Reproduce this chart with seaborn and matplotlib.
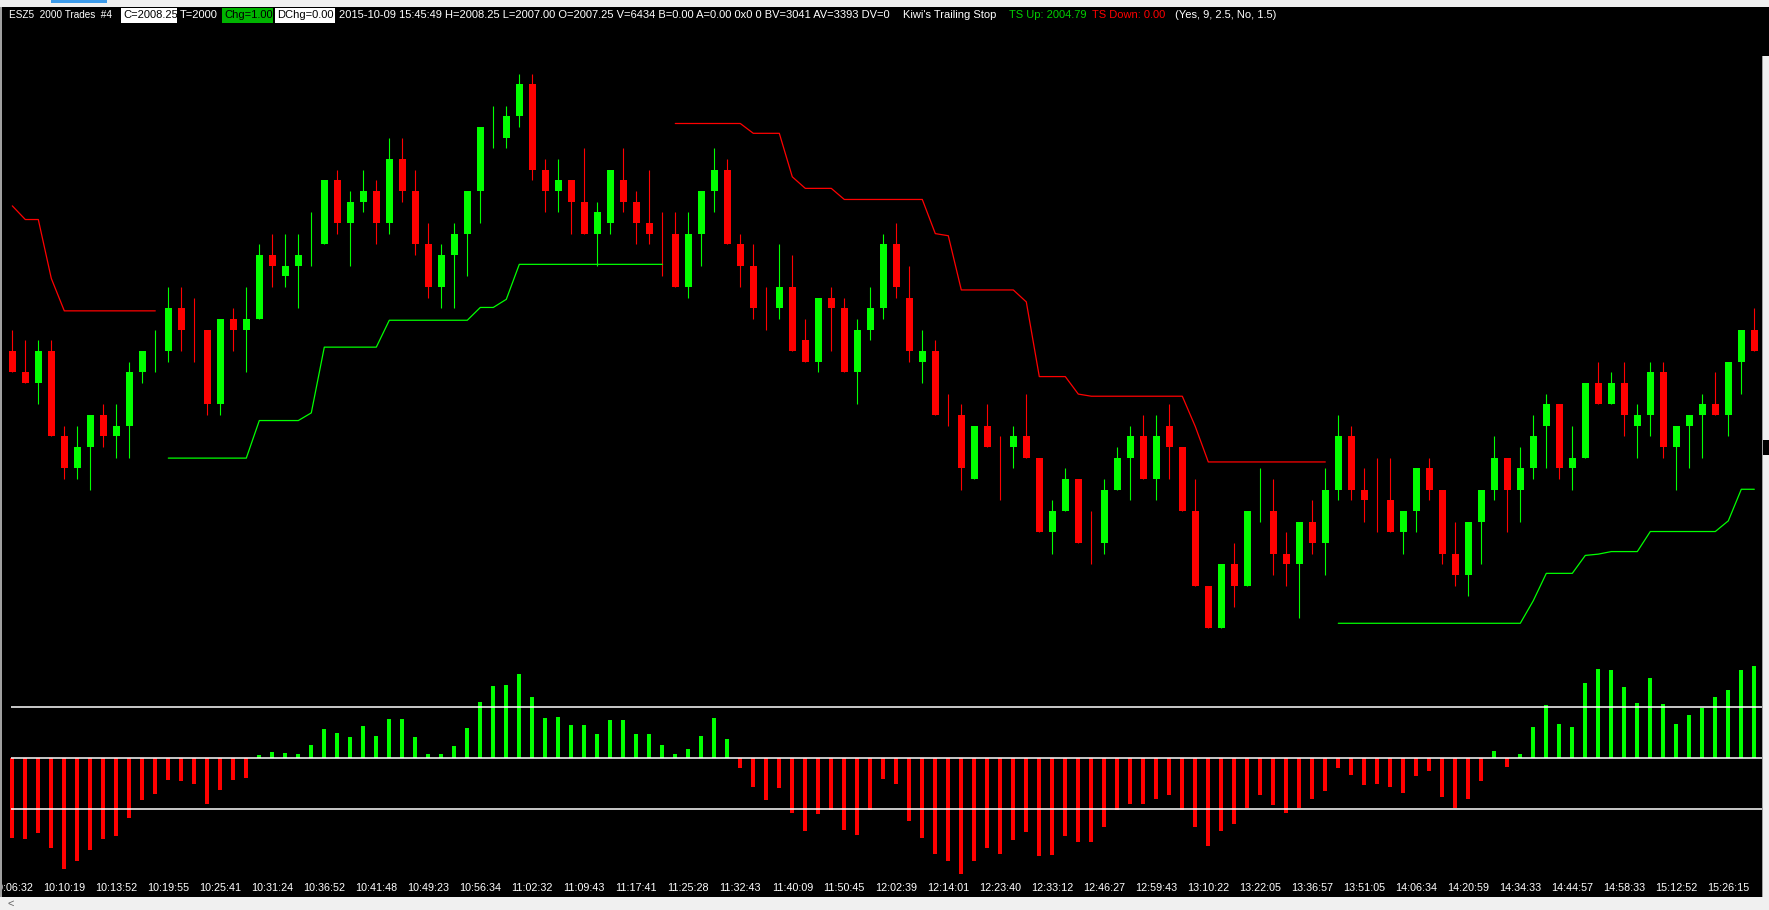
import numpy as np
import pandas as pd
import matplotlib
matplotlib.use("Agg")
import matplotlib.pyplot as plt
from matplotlib.patches import Rectangle
from matplotlib import font_manager
import seaborn as sns

nan = np.nan

base_price = 2008.00
open_ticks = [0, -2, -3, 0, -8, -11, -9, -6, -8, -7,
              -2, 0, 0, 4, 2, 2, -5, 3, 2, 3,
              9, 7, 8, 10, 10, 16, 12, 14, 15, 12,
              18, 15, 10, 6, 9, 11, 15, 21, 20, 22,
              25, 17, 15, 16, 14, 11, 12, 16, 14, 12,
              11, 11, 6, 11, 15, 17, 10, 8, 4, 4,
              6, 1, -1, 5, 4, -2, 2, 4, 10, 5,
              -1, 0, -6, -6, -12, -7, -9, -9, -8, -10,
              -17, -15, -12, -18, -18, -13, -10, -8, -12, -7,
              -9, -15, -22, -26, -20, -22, -15, -15, -19, -20,
              -16, -18, -13, -8, -13, -14, -14, -17, -15, -11,
              -13, -19, -21, -16, -13, -10, -13, -11, -7, -5,
              -11, -10, -3, -5, -3, -7, -6, -2, -9, -7,
              -6, -5, -6, -1, 2]
high_ticks = [2, 1, 1, 1, -7, -7, -6, -5, -5, -1,
              0, 2, 6, 6, 5, 2, 3, 4, 6, 10,
              11, 11, 11, 13, 16, 17, 15, 17, 16, 20,
              20, 17, 12, 10, 12, 15, 21, 23, 23, 26,
              26, 18, 18, 16, 19, 14, 17, 19, 15, 17,
              13, 13, 13, 15, 19, 18, 11, 10, 6, 10,
              9, 3, 5, 6, 5, 3, 6, 11, 12, 8,
              2, 1, -4, -5, -7, -5, -8, -7, -4, -10,
              -14, -11, -12, -15, -12, -9, -7, -6, -6, -5,
              -9, -12, -22, -20, -18, -15, -11, -12, -17, -16,
              -14, -11, -6, -7, -11, -10, -10, -15, -11, -10,
              -13, -16, -16, -13, -8, -10, -9, -6, -4, -5,
              -7, -3, -1, -2, -1, -5, -1, -1, -7, -6,
              -4, -2, -1, 2, 4]
low_ticks = [-2, -3, -5, -8, -12, -12, -13, -9, -10, -10,
             -3, -2, -1, 0, -1, -6, -6, 0, -2, 3,
             6, 6, 4, 8, 10, 11, 8, 13, 10, 11,
             14, 9, 5, 4, 4, 7, 12, 19, 19, 21,
             16, 13, 13, 11, 11, 8, 11, 13, 10, 10,
             7, 6, 5, 8, 13, 10, 6, 3, 2, 3,
             0, -1, -2, 0, -2, -5, 1, 3, 5, -1,
             -3, -6, -7, -13, -12, -9, -14, -11, -10, -17,
             -19, -15, -18, -20, -19, -13, -14, -12, -14, -12,
             -15, -22, -26, -26, -24, -22, -16, -21, -22, -25,
             -19, -21, -14, -14, -16, -17, -17, -19, -17, -14,
             -20, -22, -23, -20, -14, -17, -16, -12, -11, -12,
             -13, -10, -5, -5, -8, -10, -8, -10, -13, -11,
             -10, -6, -8, -4, 0]
close_ticks = [-2, -3, 0, -8, -11, -9, -6, -8, -7, -2,
               0, 0, 4, 2, 2, -5, 3, 2, 3, 9,
               8, 8, 9, 10, 16, 12, 14, 15, 12, 18,
               15, 10, 6, 9, 11, 15, 21, 21, 22, 25,
               17, 15, 16, 14, 11, 13, 17, 14, 12, 11,
               11, 6, 11, 15, 17, 10, 8, 4, 4, 6,
               0, -1, 5, 4, -2, 2, 4, 10, 6, 0,
               0, -6, -6, -11, -7, -9, -9, -8, -10, -17,
               -15, -12, -18, -18, -13, -10, -8, -12, -8, -9,
               -15, -22, -26, -20, -22, -15, -15, -19, -20, -16,
               -18, -13, -8, -13, -14, -14, -17, -15, -11, -13,
               -19, -21, -16, -13, -10, -13, -11, -8, -5, -11,
               -10, -3, -5, -3, -6, -6, -2, -9, -7, -6,
               -5, -6, -1, 2, 0]
# dojis painted green (the rest of the dojis are red)
doji_up = [11, 23, 37, 96]

# Kiwi's Trailing Stop, one side at a time
ts_up = ([nan] * 10 +
         [nan, nan, 2005.49, 2005.49, 2005.49, 2005.49, 2005.49, 2005.49, 2005.49, 2006.37] +
         [2006.37, 2006.37, 2006.37, 2006.55, 2008.09, 2008.09, 2008.09, 2008.09, 2008.09, 2008.72] +
         [2008.72, 2008.72, 2008.72, 2008.72, 2008.72, 2008.72, 2009.02, 2009.02, 2009.21, 2010.03] +
         [2010.03, 2010.03, 2010.03, 2010.03, 2010.03, 2010.03, 2010.03, 2010.03, 2010.03, 2010.03] +
         [2010.03] + [nan] * 51 +
         [2001.62, 2001.62, 2001.62, 2001.62, 2001.62, 2001.62, 2001.62, 2001.62] +
         [2001.62, 2001.62, 2001.62, 2001.62, 2001.62, 2001.62, 2001.62, 2002.15, 2002.79, 2002.79] +
         [2002.79, 2003.21, 2003.24, 2003.30, 2003.30, 2003.30, 2003.77, 2003.77, 2003.77, 2003.77] +
         [2003.77, 2003.77, 2004.02, 2004.76, 2004.76])
ts_down = ([2011.40, 2011.08, 2011.08, 2009.70, 2008.94, 2008.94, 2008.94, 2008.94, 2008.94, 2008.94] +
           [2008.94, 2008.94] + [nan] * 39 +
           [2013.33, 2013.33, 2013.33, 2013.33, 2013.33, 2013.33, 2013.10, 2013.10, 2013.10] +
           [2012.08, 2011.81, 2011.81, 2011.81, 2011.55, 2011.55, 2011.55, 2011.55, 2011.55, 2011.55] +
           [2011.55, 2010.75, 2010.70, 2009.43, 2009.43, 2009.43, 2009.43, 2009.43, 2009.15, 2007.40] +
           [2007.40, 2007.40, 2006.99, 2006.94, 2006.94, 2006.94, 2006.94, 2006.94, 2006.94, 2006.94] +
           [2006.94, 2006.23, 2005.40, 2005.40, 2005.40, 2005.40, 2005.40, 2005.40, 2005.40, 2005.40] +
           [2005.40, 2005.40] + [nan] * 33)

# lower pane oscillator, guide lines at +1 / -1
osc = [-1.56, -1.58, -1.48, -1.77, -2.18, -2.01, -1.80, -1.59, -1.52, -1.18,
       -0.83, -0.71, -0.44, -0.46, -0.50, -0.90, -0.62, -0.44, -0.40, 0.05,
       0.12, 0.10, 0.08, 0.26, 0.56, 0.50, 0.42, 0.63, 0.44, 0.77,
       0.77, 0.42, 0.08, 0.08, 0.24, 0.58, 1.10, 1.42, 1.44, 1.65,
       1.20, 0.79, 0.81, 0.65, 0.65, 0.48, 0.75, 0.75, 0.48, 0.48,
       0.26, 0.07, 0.18, 0.44, 0.79, 0.38, -0.19, -0.56, -0.83, -0.58,
       -1.07, -1.44, -1.10, -1.01, -1.42, -1.50, -1.01, -0.42, -0.50, -1.24,
       -1.56, -1.89, -2.01, -2.28, -2.01, -1.76, -1.89, -1.61, -1.46, -1.93,
       -1.91, -1.52, -1.65, -1.65, -1.36, -1.01, -0.91, -0.91, -0.81, -0.73,
       -1.01, -1.36, -1.73, -1.44, -1.30, -0.99, -0.73, -0.93, -1.07, -0.99,
       -0.81, -0.65, -0.20, -0.34, -0.52, -0.50, -0.56, -0.69, -0.36, -0.26,
       -0.77, -0.99, -0.81, -0.46, 0.14, -0.18, 0.07, 0.61, 1.03, 0.67,
       0.61, 1.48, 1.75, 1.73, 1.40, 1.07, 1.56, 1.05, 0.67, 0.85,
       0.99, 1.20, 1.34, 1.73, 1.81]
osc_band = 1.0

# time axis, one label every 4 bars
label_step = 4
time_labels = ["10:06:32", "10:10:19", "10:13:52", "10:19:55", "10:25:41", "10:31:24",
               "10:36:52", "10:41:48", "10:49:23", "10:56:34", "11:02:32", "11:09:43",
               "11:17:41", "11:25:28", "11:32:43", "11:40:09", "11:50:45", "12:02:39",
               "12:14:01", "12:23:40", "12:33:12", "12:46:27", "12:59:43", "13:10:22",
               "13:22:05", "13:36:57", "13:51:05", "14:06:34", "14:20:59", "14:34:33",
               "14:44:57", "14:58:33", "15:12:52", "15:26:15"]

# header pieces: text, left px, right px (slot), colour, box colour
header = [("ESZ5  2000 Trades  #4", 9, 108, "white", None),
          ("C=2008.25", 123, 176, "black", "white"),
          ("T=2000", 180, 220, "white", None),
          ("Chg=1.00", 224, 272, "black", "#00b400"),
          ("DChg=0.00", 277, 334, "black", "white"),
          ("2015-10-09 15:45:49 H=2008.25 L=2007.00 O=2007.25 V=6434 B=0.00 A=0.00 0x0 0 "
           "BV=3041 AV=3393 DV=0", 339, 896, "white", None),
          ("Kiwi's Trailing Stop", 903, 1003, "white", None),
          ("TS Up: 2004.79", 1009, 1084, "#00d000", None),
          ("TS Down: 0.00", 1092, 1166, "#ff0000", None),
          ("(Yes, 9, 2.5, No, 1.5)", 1175, 1275, "white", None)]

GREEN = "#00ff00"
RED = "#ff0000"

sns.set_theme(style="dark")
names = {f.name for f in font_manager.fontManager.ttflist}
narrow = "Liberation Sans Narrow" if "Liberation Sans Narrow" in names else "Liberation Sans"
plt.rcParams["font.family"] = [narrow, "DejaVu Sans"]

W, H = 1769, 910
fig = plt.figure(figsize=(W / 100, H / 100), dpi=100, facecolor="black")


def fbox(x0, y0, x1, y1, color, z=5):
    # rectangle in screen pixels (y down)
    fig.add_artist(Rectangle((x0 / W, 1 - y1 / H), (x1 - x0) / W, (y1 - y0) / H,
                             transform=fig.transFigure, color=color, lw=0, zorder=z))


idx = np.arange(len(open_ticks))
o = base_price + 0.25 * np.array(open_ticks)
h = base_price + 0.25 * np.array(high_ticks)
l = base_price + 0.25 * np.array(low_ticks)
c = base_price + 0.25 * np.array(close_ticks)
up = (c > o) | ((c == o) & np.isin(idx, doji_up))
cols = np.where(up, GREEN, RED)

right_px = 1762
x_left = -12.3 / 13
x_right = (right_px - 12.3) / 13

ax1 = fig.add_axes([0, 1 - 650 / H, right_px / W, (650 - 22) / H])
ax2 = fig.add_axes([0, 1 - 880 / H, right_px / W, 230 / H], sharex=ax1)
for ax in (ax1, ax2):
    ax.set_facecolor("black")
    for s in ax.spines.values():
        s.set_visible(False)
    ax.grid(False)

# candles
ax1.vlines(idx, l, h, colors=cols, linewidth=0.8)
ax1.bar(idx, c - o, bottom=o, width=0.54, color=cols, linewidth=0)
ax1.plot(idx, ts_up, color=GREEN, lw=0.9)
ax1.plot(idx, ts_down, color=RED, lw=0.9)
ax1.set_ylim(2000.994, 2015.708)
ax1.set_yticks([])
ax1.tick_params(axis="x", bottom=False, labelbottom=False)

# oscillator
osc_arr = np.array(osc)
osc_df = pd.DataFrame({"bar": idx, "osc": osc_arr,
                       "side": np.where(osc_arr >= 0, "up", "down")})
sns.barplot(data=osc_df, x="bar", y="osc", hue="side", palette={"up": GREEN, "down": RED},
            native_scale=True, dodge=False, width=0.31, saturation=1, errorbar=None,
            legend=False, linewidth=0, ax=ax2)
for lvl in (osc_band, 0, -osc_band):
    ax2.hlines(lvl, -0.1, x_right, color="white", lw=1.1, zorder=4)
ax2.set_ylim(-122 / 51, 108 / 51)
ax2.set_yticks([])
ax2.set_xlabel("")
ax2.set_ylabel("")
ax2.set_xticks(idx[::label_step][:len(time_labels)], time_labels)
ax2.tick_params(axis="x", colors="white", length=0, pad=2.5, labelsize=9.6)
ax2.set_xlim(x_left, x_right)

# window chrome
fbox(0, 0, W, 7, "#f0f0f0")
fbox(51, 0, 107, 3, "#3d9bea", 6)
fbox(0, 897, W, H, "#f0f0f0")
fbox(0, 7, 1.6, 897, "#a0a0a0")
fbox(right_px, 56, W, 440, "#f0f0f0")
fbox(right_px, 455, W, 897, "#f0f0f0")
fbox(right_px, 56, right_px + 1, 897, "#a0a0a0", 6)
fig.text(7 / W, 1 - 904 / H, "<", color="#606060", fontsize=8, ha="left", va="center", zorder=7)

# header line
texts = []
for s, x0, x1, color, bg in header:
    if bg is not None:
        fbox(x0 - 2, 8, x1 + 1, 23, bg)
    texts.append(fig.text(x0 / W, 1 - 15.5 / H, s, color=color, fontsize=9.5,
                          ha="left", va="center", zorder=8))

# one size for the header, fitted on the long piece; a piece that still
# overruns its slot is shrunk a bit more. time labels fitted the same way
fig.canvas.draw()
long_w = texts[5].get_window_extent().width
head_size = 9.5 * (896 - 339) / long_w
for t in texts:
    t.set_fontsize(head_size)
fig.canvas.draw()
for t, (s, x0, x1, color, bg) in zip(texts, header):
    w = t.get_window_extent().width
    if w > (x1 - x0) + 3:
        t.set_fontsize(head_size * (x1 - x0 + 3) / w)
lab = ax2.get_xticklabels()[1]
lab_w = lab.get_window_extent().width
ax2.tick_params(axis="x", labelsize=9.6 * 42 / lab_w)

fig.savefig("out.png", dpi=100, facecolor="black")
